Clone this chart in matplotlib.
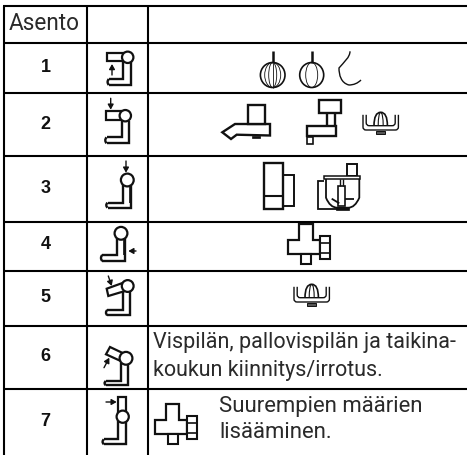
#!/usr/bin/env python3
"""Speed setting table with attachment pictograms."""

import matplotlib
matplotlib.use("Agg")
import matplotlib.pyplot as plt
from matplotlib.patches import Circle, Ellipse, Polygon, Rectangle
from matplotlib.path import Path
from matplotlib.patches import PathPatch

W, H = 467, 456
INK = "#111111"
TEXT = dict(family="Roboto", weight="normal", color="#2a2a2a", ha="left", va="center")

header = "Asento"
row_labels = ["1", "2", "3", "4", "5", "6", "7"]
row_lines = [7, 44, 93.5, 157, 222.5, 272, 327, 390]
col_lines = [3.5, 87, 148]
label_y = [68, 125, 189, 245, 298, 357, 422]
note_6 = ["Vispilän, pallovispilän ja taikina-", "koukun kiinnitys/irrotus."]
note_7 = ["Suurempien määrien", "lisääminen."]

fig = plt.figure(figsize=(W / 100, H / 100), dpi=100)
ax = fig.add_axes([0, 0, 1, 1])
ax.set_xlim(0, W)
ax.set_ylim(H, 0)
ax.axis("off")


def line(xs, ys, lw=1.3, color=INK):
    ax.plot(xs, ys, color=color, lw=lw, solid_capstyle="butt", solid_joinstyle="miter")


def box(x0, y0, x1, y1, lw=1.3, fc="white"):
    ax.add_patch(Rectangle((x0, y0), x1 - x0, y1 - y0, fc=fc, ec=INK, lw=lw, zorder=2))


def arrow(x0, y0, x1, y1):
    ax.annotate("", xy=(x1, y1), xytext=(x0, y0),
                arrowprops=dict(arrowstyle="-|>,head_width=0.17,head_length=0.3",
                                color=INK, lw=1.0, shrinkA=0, shrinkB=0))


def stand(left, right, top, base_top, bottom, base_left):
    # column and foot of the mixer, rounded at the free end
    line([left, left, base_left + 1.5], [top, base_top, base_top], lw=1.7)
    line([right, right, base_left + 1.5], [top, bottom, bottom], lw=1.7)
    ax.add_patch(PathPatch(Path([(base_left + 1.5, base_top), (base_left - 1, (base_top + bottom) / 2),
                                 (base_left + 1.5, bottom)], [Path.MOVETO, Path.CURVE3, Path.CURVE3]),
                           fc="none", ec=INK, lw=1.7))


def knob(x, y, r):
    ax.add_patch(Circle((x, y), r + 0.4, fc="white", ec=INK, lw=1.6, zorder=3))


def whisk(x, y, rx, ry, inner):
    line([x, x], [y - 24.5, y - ry], lw=1.8)
    ax.add_patch(Ellipse((x, y), 2 * rx, 2 * ry, fc="none", ec=INK, lw=1.2))
    for w in inner:
        ax.add_patch(Ellipse((x, y), 2 * w, 2 * ry, fc="none", ec=INK, lw=0.6))


def u_shape(cx, half, top, bottom, lw):
    # open tray with rounded lower corners
    ax.add_patch(PathPatch(Path([(cx - half, top), (cx - half, bottom - 3), (cx - half, bottom), (cx - half + 3, bottom),
                                 (cx + half - 3, bottom), (cx + half, bottom), (cx + half, bottom - 3), (cx + half, top)],
                                [Path.MOVETO, Path.LINETO, Path.CURVE3, Path.CURVE3, Path.LINETO,
                                 Path.CURVE3, Path.CURVE3, Path.LINETO]),
                           fc="none", ec=INK, lw=lw))


def juicer(cx, top):
    u_shape(cx, 17.7, top + 2.5, top + 17.7, 1.0)
    u_shape(cx, 14.5, top + 2.5, top + 13.4, 1.0)
    ax.add_patch(Rectangle((cx - 4.5, top + 18.5), 9, 3, fc="#555555", ec=INK, lw=0.7))
    ax.add_patch(PathPatch(Path([(cx - 6.7, top + 13.4), (cx - 6.7, top), (cx, top), (cx + 6.7, top),
                                 (cx + 6.7, top + 13.4)],
                                [Path.MOVETO, Path.CURVE3, Path.CURVE3, Path.CURVE3, Path.CURVE3]),
                           fc="none", ec=INK, lw=1.2))
    for dx in (-2.5, 2.5):
        ax.add_patch(PathPatch(Path([(cx + dx, top + 13.4), (cx + dx, top + 1), (cx, top)],
                                    [Path.MOVETO, Path.CURVE3, Path.CURVE3]),
                               fc="none", ec=INK, lw=0.8))


def funnel(dx, dy):
    xs = [299.3, 312.7, 312.7, 320, 320, 288.3, 288.3, 299.3]
    ys = [224.7, 224.7, 241, 241, 255.3, 255.3, 241, 241]
    ax.add_patch(Polygon([(x + dx, y + dy) for x, y in zip(xs, ys)], closed=True, fc="none", ec=INK, lw=1.6))
    box(301 + dx, 255.3 + dy, 311 + dx, 264.7 + dy, lw=1.5)
    box(320 + dx, 237 + dy, 330 + dx, 260.3 + dy, lw=1.5)
    line([320 + dx, 330 + dx], [243.7 + dy, 243.7 + dy], lw=1.2)
    line([320 + dx, 330 + dx], [254.3 + dy, 254.3 + dy], lw=1.2)


# table grid
for y in row_lines:
    ax.plot([col_lines[0] - 1, W], [y, y], color="black", lw=1.5, solid_capstyle="butt")
for x in col_lines:
    ax.plot([x, x], [row_lines[0], H], color="black", lw=1.5, solid_capstyle="butt")

# text
ax.text(8.5, 24, header, fontsize=16.3, **TEXT)
for lab, y in zip(row_labels, label_y):
    ax.text(45.5, y, lab, family="Liberation Sans", weight="bold", fontsize=13, color="#111111",
            ha="center", va="center")
for txt, y in zip(note_6, (343, 371)):
    ax.text(153, y, txt, fontsize=15.5, **TEXT)
for txt, y in zip(note_7, (407, 433)):
    ax.text(219, y, txt, fontsize=15.9, **TEXT)

# mixer position icons, column 2
# 1
box(107.3, 54, 124, 61.7, lw=1.6)
stand(123.3, 130.7, 63, 80, 86, 107.3)
knob(127.7, 58.3, 5.3)
arrow(112, 76, 112, 65)
# 2
box(105.7, 111.7, 121, 121, lw=1.6)
stand(122, 128.7, 122, 138.3, 144.3, 105)
knob(125.3, 116.7, 5.3)
arrow(110.7, 99.3, 110.7, 110.7)
# 3
stand(123.3, 131.3, 185, 203.7, 208.7, 106)
line([129.5, 129.5], [187, 203.7], lw=1.2)
knob(127.3, 181, 6)
arrow(126, 162, 126, 173.7)
# 4
stand(117.3, 125.3, 238.7, 256, 262, 100.7)
line([123.5, 123.5], [240, 256], lw=1.2)
knob(121, 234.3, 6)
arrow(136, 252, 128.3, 252)
# 5
ax.add_patch(Polygon([(106.7, 289.7), (123.3, 283.7), (125, 292), (108.3, 297)], closed=True, fc="white", ec=INK, lw=1.6))
stand(122.7, 130, 292, 311, 316.3, 105.7)
knob(127.7, 287, 5.5)
arrow(108.3, 277, 111.7, 287)
# 6
ax.add_patch(Polygon([(106, 355.3), (110, 348), (123.3, 354.3), (120.7, 362)], closed=True, fc="white", ec=INK, lw=1.6))
stand(120.7, 128.3, 363.7, 382, 386.3, 104.3)
knob(126, 359.3, 6)
arrow(104, 368.7, 109.3, 358.7)
# 7
box(118.3, 397.7, 125.7, 414, lw=1.6)
stand(118.3, 125.7, 422, 440.3, 445.3, 102.3)
knob(122.7, 417.7, 5.7)
arrow(106, 403, 116.7, 403)

# attachments, column 3
# row 1: whisks and hook
whisk(272.7, 76, 12.3, 12.5, [8, 4])
line([272.7, 272.7], [63.5, 88.5], lw=0.6)
whisk(311.7, 76, 12, 12.5, [6])
ax.add_patch(PathPatch(Path([(350, 52.3), (350, 58.3), (344, 63), (339, 69), (339, 76), (341, 84),
                             (349, 86), (356, 86), (361, 81)],
                            [Path.MOVETO] + [Path.CURVE4] * 6 + [Path.CURVE3] * 2),
                       fc="none", ec=INK, lw=1.0))

# row 2: slicer, grinder, juicer
box(248.3, 106, 265, 125, lw=1.7)
ax.add_patch(Polygon([(270, 125), (235, 125), (222.3, 133.3), (231, 140), (236.7, 135.7), (270, 136.5)],
                     closed=True, fc="none", ec=INK, lw=1.7))
ax.add_patch(Rectangle((252, 137), 8, 2.4, fc=INK, ec=INK, lw=0.5))
box(319.3, 101, 341, 114.3, lw=1.7)
line([326.7, 326.7], [114.3, 126.7], lw=1.7)
line([335, 335], [114.3, 126.7], lw=1.7)
ax.add_patch(Polygon([(306.7, 127), (336, 127), (336, 137.3), (306.7, 137.3)], closed=True, fc="none", ec=INK, lw=1.7))
box(306.7, 138, 313.3, 145, lw=1.2)
juicer(380.7, 113.3)

# row 3: blender and food processor
box(264, 163.7, 283.3, 209.7, lw=1.7)
line([264, 283.3], [197, 197], lw=1.5)
line([283.3, 294, 294, 283.3], [176, 176, 207, 207], lw=1.4)
box(346.7, 164.7, 356.7, 177, lw=1.4)
box(324, 177, 360, 179.7, lw=1.1)
ax.add_patch(PathPatch(Path([(326, 179.7), (326, 198.7), (330, 208.7), (337.3, 208.7), (348.3, 208.7),
                             (355, 208.7), (359.3, 198.7), (359.3, 179.7)],
                            [Path.MOVETO, Path.LINETO, Path.CURVE3, Path.CURVE3, Path.LINETO,
                             Path.CURVE3, Path.CURVE3, Path.LINETO]),
                       fc="none", ec=INK, lw=1.3))
line([324, 318.3, 318.3, 337.3], [182, 182, 209.7, 209.7], lw=1.3)
box(338.3, 187, 345, 207, lw=1.2)
line([340, 340], [180, 187], lw=1.0)
line([343, 343], [180, 187], lw=1.0)
line([331.7, 339.3], [199.7, 204.3], lw=1.3)
line([345, 354], [199.7, 199.7], lw=1.3)
ax.add_patch(Rectangle((336, 207.7), 13.3, 2.8, fc=INK, ec=INK, lw=0.5))

# rows 4, 5, 7
funnel(0, 0)
juicer(311.7, 285.3)
funnel(-133.3, 180)

fig.savefig("out.png", dpi=100)
